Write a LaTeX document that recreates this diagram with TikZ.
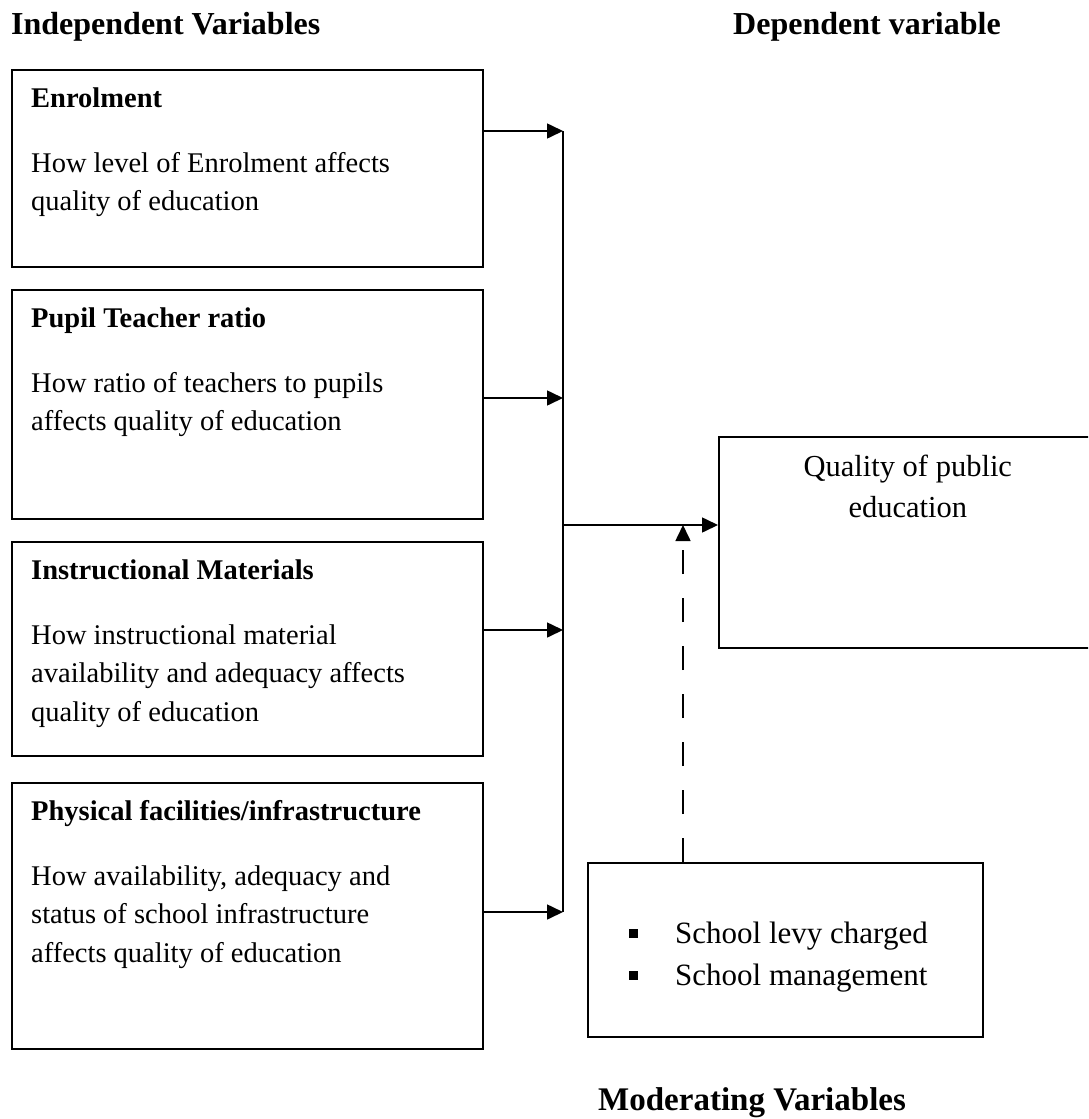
\documentclass[tikz,border=0pt]{standalone}
\usepackage{fontspec}
\setmainfont{Liberation Serif}
\usetikzlibrary{arrows.meta}

\newcommand*{\boxL}{11}
\newcommand*{\boxW}{471}
\newcommand*{\trunkX}{563}
\newcommand*{\dashX}{683}

\tikzset{
	ivbox/.style={draw, line width=1.6pt, anchor=north west, minimum width=\boxW pt, inner sep=0},
	ivtext/.style={font=\fontsize{28.5}{38.5}\selectfont, align=left, inner sep=0, anchor=north west},
	head/.style={font=\fontsize{32}{38}\selectfont\bfseries, inner sep=0, anchor=base west},
	arr/.style={line width=1.6pt, -{Triangle[length=16pt,width=15pt]}},
}

\begin{document}
\begin{tikzpicture}[x=1pt,y=-1pt]
	\useasboundingbox (0,0) rectangle (1088,1119);
	\clip (0,0) rectangle (1088,1119);

	% headings
	\node [head] (indep) at (11,34) {Independent Variables};
	\node [head] (dep) at (733,34) {Dependent variable};
	\node [head, font=\fontsize{33}{40}\selectfont\bfseries] (moderating) at (598,1110) {Moderating Variables};

	% independent variable boxes
	\node [ivbox, minimum height=197pt] (enrol) at (\boxL,69) {};
	\node [ivbox, minimum height=229pt] (pupil) at (\boxL,289) {};
	\node [ivbox, minimum height=214pt] (instr) at (\boxL,541) {};
	\node [ivbox, minimum height=266pt] (phys) at (\boxL,782) {};

	\node [ivtext] (enrolText) at ([xshift=20pt,yshift=-11pt]enrol.north west)
		{\strut\textbf{Enrolment}\\[26.5pt]How level of Enrolment affects\\quality of education};
	\node [ivtext] (pupilText) at ([xshift=20pt,yshift=-11pt]pupil.north west)
		{\strut\textbf{Pupil Teacher ratio}\\[26.5pt]How ratio of teachers to pupils\\affects quality of education};
	\node [ivtext] (instrText) at ([xshift=20pt,yshift=-11pt]instr.north west)
		{\strut\textbf{Instructional Materials}\\[26.5pt]How instructional material\\availability and adequacy affects\\quality of education};
	\node [ivtext] (physText) at ([xshift=20pt,yshift=-11pt]phys.north west)
		{\strut\textbf{Physical facilities/infrastructure}\\[26.5pt]How availability, adequacy and\\status of school infrastructure\\affects quality of education};

	% dependent and moderating boxes
	\node [ivbox, minimum width=378pt, minimum height=211pt] (quality) at (718,436) {};
	\node [font=\fontsize{30.5}{41}\selectfont, align=center, inner sep=0, anchor=north] (qualityText)
		at ([yshift=-12pt]quality.north) {\strut Quality of public\\education};

	\node [ivbox, minimum width=395pt, minimum height=174pt] (moder) at (587,862) {};
	\node [font=\fontsize{31}{42}\selectfont, align=left, inner sep=0, anchor=north west] (moderText)
		at (629,914) {\strut\makebox[46pt][l]{\rule[6pt]{9pt}{9pt}}School levy charged\\
		\makebox[46pt][l]{\rule[6pt]{9pt}{9pt}}School management};

	% connectors
	\coordinate (enrolIn) at (\trunkX,131);
	\coordinate (pupilIn) at (\trunkX,398);
	\coordinate (instrIn) at (\trunkX,630);
	\coordinate (physIn) at (\trunkX,912);
	\coordinate (junc) at (\trunkX,525);
	\coordinate (modTip) at (\dashX,525);

	\foreach \b in {enrol,pupil,instr,phys} {
		\draw [arr] (\b.east |- \b In) -- (\b In);
	}
	\draw [line width=1.6pt] (enrolIn) -- (physIn);
	\draw [arr] (junc) -- (quality.west |- junc);
	\draw [arr, dash pattern=on 24pt off 24pt] (moder.north -| modTip) -- (modTip);

\end{tikzpicture}
\end{document}
